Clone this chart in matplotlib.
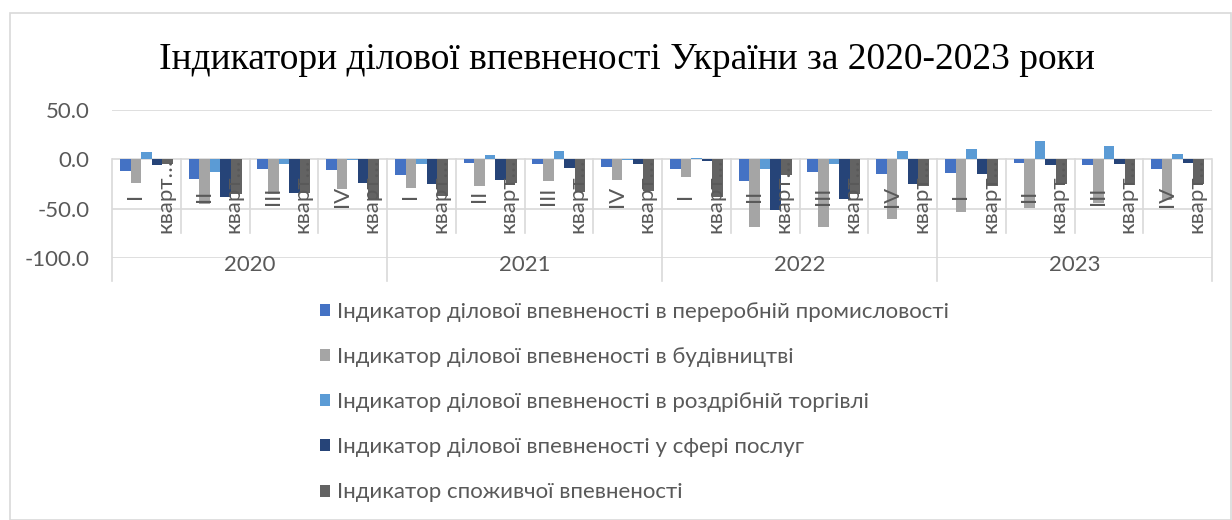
import matplotlib.pyplot as plt
import numpy as np
from matplotlib.patches import Rectangle

years = ["2020", "2021", "2022", "2023"]
quarters = ["I", "II", "III", "IV"]
quarter_word = "кварт…"

series_names = [
    "Індикатор ділової впевненості в переробній промисловості",
    "Індикатор ділової впевненості в будівництві",
    "Індикатор ділової впевненості в роздрібній торгівлі",
    "Індикатор ділової впевненості у сфері послуг",
    "Індикатор споживчої впевненості",
]
manufacturing = [-12, -19.5, -10, -11, -15.7, -3.3, -5, -7.7, -10, -21.7, -13.3, -15, -13.7, -3.3, -6, -10]
construction = [-24, -45, -35, -30, -29, -26.7, -22.3, -21, -17.7, -69, -68.3, -60, -53.3, -49.3, -44.3, -41.7]
retail = [7.3, -12.5, -4.5, -0.5, -5, 4.3, 8, -1, 1.7, -9.3, -5, 8.3, 10, 18.3, 13.3, 5]
services = [-6, -38.5, -34, -23.5, -25, -21.3, -9, -4.3, -2, -51, -40.3, -25, -15, -5.7, -4.3, -3.3]
consumer = [-5, -35, -34, -40, -37, -24.3, -33, -32.3, -38, -16, -35, -26.7, -27.3, -25, -26, -25]
colors = ["#4472C4", "#A5A5A5", "#5B9BD5", "#264478", "#636363"]

data = [manufacturing, construction, retail, services, consumer]
W, H = 1232, 520
fig = plt.figure(figsize=(W / 100, H / 100), dpi=100)
ax = fig.add_axes([112 / W, 262 / H, 1100 / W, 148 / H])

txt = "#595959"
grid = "#D9D9D9"
font = "Lato"
fs = 16

n = len(years) * len(quarters)
x = np.arange(n)
bw = 1 / 6.5
for i, (vals, c) in enumerate(zip(data, colors)):
    ax.bar(x + (i - 2) * bw, vals, width=bw, color=c, label=series_names[i], zorder=2)

ax.set_xlim(-0.5, n - 0.5)
ax.set_ylim(-100, 50)
ax.set_yticks([50, 0, -50, -100])
ax.set_yticklabels(["50.0", "0.0", "-50.0", "-100.0"], fontsize=fs, color=txt, family=font)
ax.tick_params(axis="y", length=0, pad=16)
ax.set_xticks([])
ax.grid(axis="y", color=grid, lw=1.2, zorder=0)
for s in ax.spines.values():
    s.set_visible(False)

tr = ax.get_xaxis_transform()
# quarter dividers and year dividers below zero
y0 = (258 - 159.3) / 148
for k in range(n + 1):
    bottom = -0.155 if k % 4 == 0 else 0.169
    ax.plot([k - 0.5, k - 0.5], [y0, bottom], transform=tr, color=grid, lw=1.2, clip_on=False, zorder=1)

for k in range(n):
    ax.text(k - 0.16, 0.419, quarters[k % 4], transform=tr, rotation=90, ha="center", va="center",
            fontsize=fs, color=txt, family=font, zorder=5)
    ax.text(k + 0.27, 0.169, quarter_word, transform=tr, rotation=90, ha="center", va="bottom",
            fontsize=fs, color=txt, family=font, zorder=5)

for j, yr in enumerate(years):
    ax.text(j * 4 + 1.5, -0.047, yr, transform=tr, ha="center", va="center",
            fontsize=fs, color=txt, family=font)

fig.text(627 / W, 1 - 60 / H, "Індикатори ділової впевненості України за 2020-2023 роки",
         ha="center", va="center", fontsize=27, family="Liberation Serif", color="black")

fig.legend(loc="upper left", bbox_to_anchor=(320 / W, 1 - 302 / H), ncol=1, frameon=False,
           prop={"family": font, "size": fs}, labelcolor=txt, handlelength=0.45, handleheight=0.45,
           handletextpad=0.3, labelspacing=1.13, borderpad=0, borderaxespad=0)

fig.patches.append(Rectangle((10 / W, 0), (W - 11) / W, 1 - 13 / H, transform=fig.transFigure,
                             fill=False, edgecolor=grid, lw=1.2))

fig.savefig("out.png", dpi=100)
